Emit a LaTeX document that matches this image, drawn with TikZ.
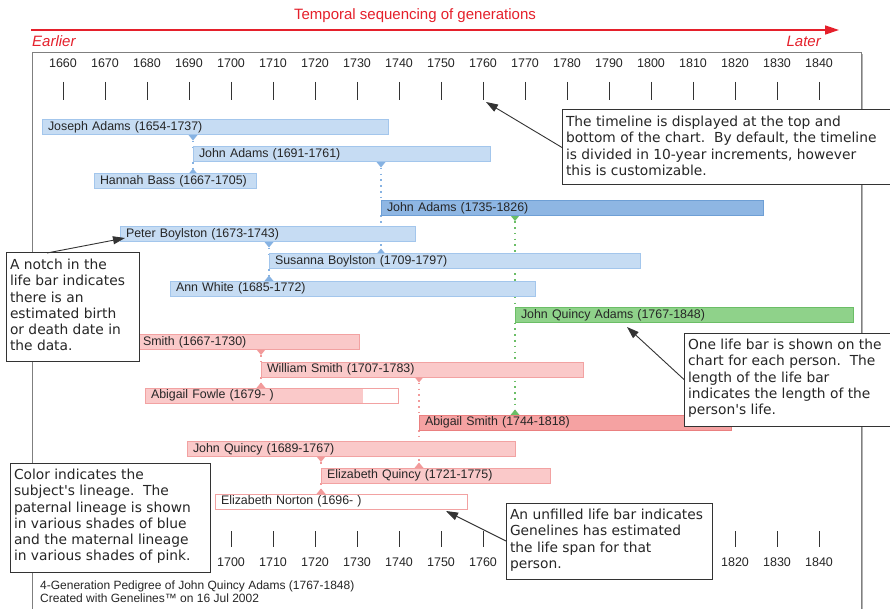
\documentclass[tikz,border=0pt]{standalone}
\usepackage{fontspec}
\setmainfont{Liberation Sans}
\newfontfamily\notefont{DejaVu Sans}
\usetikzlibrary{arrows.meta,backgrounds}

\definecolor{hdred}{HTML}{E5202B}
\definecolor{paleblue}{HTML}{C6DCF3}
\definecolor{paleblueline}{HTML}{A3C6EC}
\definecolor{midblue}{HTML}{8EB6E3}
\definecolor{midblueline}{HTML}{6E9FD5}
\definecolor{notchblue}{HTML}{86B2E2}
\definecolor{jqgreen}{HTML}{8FD28A}
\definecolor{jqgreenline}{HTML}{6BBE66}
\definecolor{palepink}{HTML}{FAC9C9}
\definecolor{palepinkline}{HTML}{F2A2A2}
\definecolor{midpink}{HTML}{F5A2A2}
\definecolor{midpinkline}{HTML}{EA8080}
\definecolor{notchpink}{HTML}{F29A9A}
\definecolor{framegray}{HTML}{7F7F7F}

% one life bar: name, birth x, death x, centre y, style, label
\newcommand\lifebar[6]{%
  \pgfmathsetmacro\lbw{#3-#2-12}%
  \node[lifebarbox, #5, text width=\lbw pt] (#1) at (#2,#4) {\mbox{#6}};}

% explanatory note: name, left x, top y, width, height, text
\newcommand\notebox[6]{%
  \node[note] (#1) at (#2,#3)
    {\parbox[t][\dimexpr#5pt-12pt\relax][t]{\dimexpr#4pt-8pt\relax}{\raggedright #6}};}

% parent-child link: father, child, mother, colour
\newcommand\lineagelink[4]{%
  \draw[linkline=#4] (#2.west |- #1.south) -- (#2.north west);
  \draw[linkline=#4] (#2.south west) -- (#2.west |- #3.north);
  \fill[#4] (#2.west |- #1.south) ++(-4.5,0) -- ++(9,0) -- ++(-4.5,5.5) -- cycle;
  \fill[#4] (#2.west |- #3.north) ++(-4.5,0) -- ++(9,0) -- ++(-4.5,-5.5) -- cycle;}

\tikzset{
  lifebarbox/.style={anchor=west, minimum height=15pt, inner xsep=6pt, inner ysep=0pt,
    outer sep=0pt, align=left, line width=1pt, text=black!85,
    font=\fontsize{12.4}{13.5}\selectfont},
  paternal/.style={fill=paleblue, draw=paleblueline},
  paternaldark/.style={fill=midblue, draw=midblueline},
  subject/.style={fill=jqgreen, draw=jqgreenline},
  maternal/.style={fill=palepink, draw=palepinkline},
  maternaldark/.style={fill=midpink, draw=midpinkline},
  estimated/.style={fill=white, draw=palepinkline},
  note/.style={draw=black!80, line width=1pt, fill=white, anchor=north west,
    inner xsep=4pt, inner ysep=6pt, outer sep=0pt, text=black!85,
    font=\notefont\fontsize{13.8}{16.3}\selectfont},
  notearrow/.style={draw=black!80, line width=0.9pt, -{Triangle[length=12pt,width=8pt]}},
  linkline/.style={draw=#1, line width=1.6pt, dash pattern=on 1.6pt off 4.2pt},
  yearlabel/.style={anchor=base, inner sep=0pt, text=black!85,
    font=\fontsize{12.5}{14}\selectfont},
  yeartick/.style={draw=black!80, line width=1pt},
  footer/.style={anchor=base west, inner sep=0pt, text=black!85,
    font=\fontsize{12}{13}\selectfont},
  heading/.style={text=hdred, inner sep=0pt, font=\fontsize{15}{17}\selectfont}
}

\begin{document}
\begin{tikzpicture}[x=1pt, y=-1pt]
\useasboundingbox (0,0) rectangle (890,609);
\begin{scope}[on background layer]
  \fill[white] (0,0) rectangle (890,609);
\end{scope}

% heading and direction arrow
\node[heading, anchor=base] (title) at (415,20) {Temporal sequencing of generations};
\coordinate (hstart) at (31,30);
\coordinate (hend) at (839,30);
\draw[hdred, line width=1.4pt, -{Triangle[length=14pt,width=9pt]}] (hstart) -- (hend);
\node[heading, anchor=base west, font=\fontsize{15}{17}\selectfont\itshape] (earlier) at (32,46.5) {Earlier};
\node[heading, anchor=base east, font=\fontsize{15}{17}\selectfont\itshape] (later) at (821,46.5) {Later};

% chart frame
\draw[framegray, line width=1pt] (32,615) -- (32,53) -- (861,53) -- (861,615);
\draw[black!30, line width=1.2pt] (862.6,54) -- (862.6,615);

% timeline at the top
\foreach \i in {0,...,18}{
  \pgfmathsetmacro\tx{63+42*\i}
  \pgfmathtruncatemacro\yr{1660+10*\i}
  \node[yearlabel] (topyear\i) at (\tx,68) {\yr};
  \draw[yeartick] (\tx,82) -- (\tx,100);
}
% timeline at the bottom
\foreach \i in {4,5,6,7,8,9,10,16,17,18}{
  \pgfmathsetmacro\tx{63+42*\i}
  \pgfmathtruncatemacro\yr{1660+10*\i}
  \node[yearlabel] (bottomyear\i) at (\tx,566) {\yr};
  \draw[yeartick] (\tx,531) -- (\tx,547);
}

% life bars
\lifebar{jadams1}{42}{388}{127.5}{paternal}{Joseph Adams (1654-1737)}
\lifebar{jadams2}{193}{490}{154.5}{paternal}{John Adams (1691-1761)}
\lifebar{hbass}{94}{256}{181.5}{paternal}{Hannah Bass (1667-1705)}
\lifebar{jadams3}{381}{763}{208}{paternaldark}{John Adams (1735-1826)}
\lifebar{pboylston}{120}{415}{234.5}{paternal}{Peter Boylston (1673-1743)}
\lifebar{sboylston}{269}{640}{261.5}{paternal}{Susanna Boylston (1709-1797)}
\lifebar{awhite}{170}{535}{288.5}{paternal}{Ann White (1685-1772)}
\lifebar{jqadams}{515}{853}{315}{subject}{John Quincy Adams (1767-1848)}
\lifebar{wsmith1}{94}{359}{342}{maternal}{\hspace*{43pt}Smith (1667-1730)}
\lifebar{wsmith2}{261}{583}{369.5}{maternal}{William Smith (1707-1783)}
\lifebar{afowle}{145}{398}{395.5}{estimated, path picture={\fill[palepink]
  (path picture bounding box.north west) rectangle
  ([xshift=218pt]path picture bounding box.south west);}}{Abigail Fowle (1679- )}
\lifebar{asmith}{419}{731}{422.5}{maternaldark}{Abigail Smith (1744-1818)}
\lifebar{jquincy}{187}{515}{449}{maternal}{John Quincy (1689-1767)}
\lifebar{equincy}{321}{550}{475.5}{maternal}{Elizabeth Quincy (1721-1775)}
\lifebar{enorton}{215}{467}{501.5}{estimated}{Elizabeth Norton (1696- )}

% parent-child links, behind the bars
\begin{scope}[on background layer]
  \lineagelink{jadams1}{jadams2}{hbass}{notchblue}
  \lineagelink{jadams2}{jadams3}{sboylston}{notchblue}
  \lineagelink{pboylston}{sboylston}{awhite}{notchblue}
  \lineagelink{jadams3}{jqadams}{asmith}{jqgreenline}
  \lineagelink{wsmith1}{wsmith2}{afowle}{notchpink}
  \lineagelink{wsmith2}{asmith}{equincy}{notchpink}
  \lineagelink{jquincy}{equincy}{enorton}{notchpink}
\end{scope}

% explanatory notes
\notebox{cbtimeline}{562}{110}{345}{75}{The timeline is displayed at the top and\\
  bottom of the chart.\ \ By default, the timeline\\
  is divided in 10-year increments, however\\
  this is customizable.}
\notebox{cbnotch}{6}{253}{133}{108}{A notch in the\\ life bar indicates\\ there is an\\
  estimated birth\\ or death date in\\ the data.}
\notebox{cbcolour}{10}{463}{200}{109}{Color indicates the\\ subject's lineage.\ \ The\\
  paternal lineage is shown\\ in various shades of blue\\ and the maternal lineage\\
  in various shades of pink.}
\notebox{cblifebar}{684}{333}{220}{93}{One life bar is shown on the\\
  chart for each person.\ \ The\\ length of the life bar\\
  indicates the length of the\\ person's life.}
\notebox{cbunfilled}{506}{503}{206}{76}{An unfilled life bar indicates\\
  Genelines has estimated\\ the life span for that\\ person.}

% pointers from the notes
\coordinate (tipA) at (486,102);
\coordinate (tipB) at (125,238);
\coordinate (tipD) at (627,327);
\coordinate (tipE) at (446,511);
\draw[notearrow] (cbtimeline.west) -- (tipA);
\draw[notearrow] ([xshift=41pt]cbnotch.north west) -- (tipB);
\draw[notearrow] (cblifebar.west) -- (tipD);
\draw[notearrow] (cbunfilled.west) -- (tipE);

% chart caption
\node[footer] (caption) at (40,589) {4-Generation Pedigree of John Quincy Adams (1767-1848)};
\node[footer] (credit) at (40,602) {Created with Genelines™ on 16 Jul 2002};
\end{tikzpicture}
\end{document}
